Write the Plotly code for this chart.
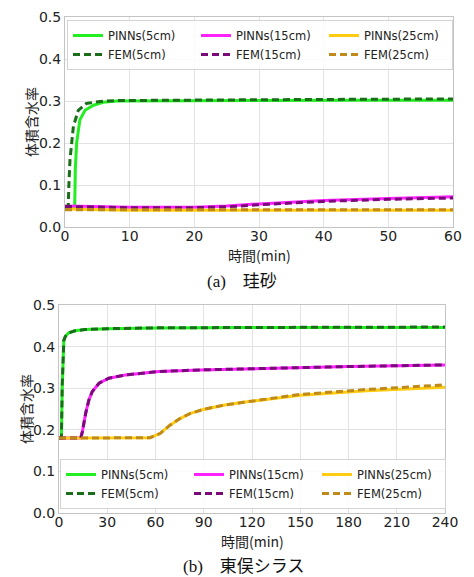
import plotly.graph_objects as go

# The page body has an 8px margin; the figure is sized so that it fills the
# 474x577 window exactly from that offset.
OFF = 8
W, H = 474 - OFF, 577 - OFF

# ---------------- (a) 珪砂 ----------------
t_a_p5 = [0, 1.5, 1.6, 1.8, 2.3, 3.1, 4.4, 5.9, 8, 15, 30, 45, 60]
v_a_p5 = [0.048, 0.048, 0.14, 0.20, 0.255, 0.278, 0.290, 0.297, 0.300, 0.300, 0.301, 0.302, 0.302]
t_a_f5 = [0, 0.5, 0.6, 0.77, 1.3, 2.06, 3.3, 5.4, 7.7, 15, 30, 45, 60]
v_a_f5 = [0.048, 0.048, 0.10, 0.16, 0.24, 0.278, 0.294, 0.299, 0.301, 0.302, 0.303, 0.304, 0.305]
t_a_15 = [0, 10, 20, 25, 30, 40, 50, 60]
v_a_p15 = [0.050, 0.047, 0.047, 0.050, 0.055, 0.063, 0.068, 0.072]
v_a_f15 = [0.049, 0.046, 0.046, 0.048, 0.053, 0.061, 0.066, 0.069]
t_a_25 = [0, 5, 10, 20, 30, 40, 50, 60]
v_a_p25 = [0.043, 0.041, 0.040, 0.040, 0.040, 0.040, 0.040, 0.040]
v_a_f25 = [0.041, 0.041, 0.041, 0.041, 0.041, 0.041, 0.041, 0.041]

# ---------------- (b) 東俣シラス ----------------
t_b_5 = [0, 1.5, 2, 2.5, 3, 4, 6, 10, 16, 30, 60, 120, 240]
v_b_p5 = [0.18, 0.18, 0.30, 0.39, 0.415, 0.425, 0.433, 0.438, 0.441, 0.443, 0.445, 0.446, 0.446]
v_b_f5 = [0.18, 0.18, 0.31, 0.39, 0.415, 0.425, 0.433, 0.438, 0.441, 0.443, 0.445, 0.446, 0.447]
t_b_15 = [0, 13.5, 14.5, 15.5, 16.6, 18.6, 20.7, 24.9, 31, 41.5, 62, 88, 120, 180, 240]
v_b_p15 = [0.18, 0.18, 0.195, 0.22, 0.24, 0.272, 0.292, 0.312, 0.324, 0.332, 0.340, 0.344, 0.347, 0.352, 0.356]
v_b_f15 = [0.18, 0.18, 0.195, 0.22, 0.24, 0.272, 0.292, 0.312, 0.324, 0.332, 0.340, 0.344, 0.347, 0.352, 0.356]
t_b_25 = [0, 44, 56.6, 62.8, 69, 75.2, 81.4, 89.7, 102.2, 114.6, 129, 150, 191.5, 240]
v_b_p25 = [0.18, 0.18, 0.181, 0.191, 0.211, 0.227, 0.239, 0.249, 0.259, 0.266, 0.273, 0.283, 0.294, 0.302]
v_b_f25 = [0.18, 0.18, 0.181, 0.191, 0.211, 0.227, 0.239, 0.249, 0.259, 0.266, 0.274, 0.285, 0.297, 0.308]

names = ["PINNs(5cm)", "PINNs(15cm)", "PINNs(25cm)", "FEM(5cm)", "FEM(15cm)", "FEM(25cm)"]
colors = ["#22ee22", "#ff22ff", "#ffcc11", "#1a6e1a", "#7a0a7a", "#bf8a1a"]

xticks_a = [0, 10, 20, 30, 40, 50, 60]
xticks_b = [0, 30, 60, 90, 120, 150, 180, 210, 240]
yticks = [0.0, 0.1, 0.2, 0.3, 0.4, 0.5]

fig = go.Figure()

series_a = [(t_a_p5, v_a_p5), (t_a_15, v_a_p15), (t_a_25, v_a_p25),
            (t_a_f5, v_a_f5), (t_a_15, v_a_f15), (t_a_25, v_a_f25)]
series_b = [(t_b_5, v_b_p5), (t_b_15, v_b_p15), (t_b_25, v_b_p25),
            (t_b_5, v_b_f5), (t_b_15, v_b_f15), (t_b_25, v_b_f25)]

DASH = "7px,4px"
for i, (t, v) in enumerate(series_a):
    fig.add_trace(go.Scatter(x=t, y=v, mode="lines", name=names[i],
                             line=dict(color=colors[i], width=3, dash="solid" if i < 3 else DASH),
                             xaxis="x", yaxis="y", legend="legend"))
for i, (t, v) in enumerate(series_b):
    fig.add_trace(go.Scatter(x=t, y=v, mode="lines", name=names[i],
                             line=dict(color=colors[i], width=3, dash="solid" if i < 3 else DASH),
                             xaxis="x2", yaxis="y2", legend="legend2"))

tickfont = dict(family="DejaVu Sans", size=14, color="#222222")
axis_common = dict(showgrid=True, gridcolor="#e2e2e2", gridwidth=1, showline=True, mirror=True,
                   linecolor="#c4c4c4", linewidth=1, zeroline=False, ticks="", tickfont=tickfont,
                   automargin=False)


def xp(px):
    return (px - OFF) / W


def yp(py):
    return 1 - (py - OFF) / H


fig.update_layout(
    width=W, height=H, template="none",
    paper_bgcolor="white", plot_bgcolor="white",
    margin=dict(l=0, r=0, t=0, b=0),
    showlegend=True,
    xaxis=dict(domain=[xp(65), xp(453)], range=[0, 60], tickvals=xticks_a, anchor="y",
               ticklabelstandoff=-4, **axis_common),
    yaxis=dict(domain=[yp(227), yp(17)], range=[0, 0.5], tickvals=yticks, tickformat=".1f", anchor="x",
               **axis_common),
    xaxis2=dict(domain=[xp(59), xp(445)], range=[0, 240], tickvals=xticks_b, anchor="y2",
                ticklabelstandoff=-4, **axis_common),
    yaxis2=dict(domain=[yp(513), yp(305)], range=[0, 0.5], tickvals=yticks, tickformat=".1f", anchor="x2",
                **axis_common),
    legend=dict(orientation="h", x=xp(67), xanchor="left", y=yp(20), yanchor="top",
                bgcolor="rgba(255,255,255,0.85)", bordercolor="#d4d4d4", borderwidth=1,
                font=dict(family="DejaVu Sans", size=11.5, color="#222222"),
                entrywidth=83, entrywidthmode="pixels", itemwidth=30, tracegroupgap=0),
    legend2=dict(orientation="h", x=xp(60), xanchor="left", y=yp(509), yanchor="bottom",
                 bgcolor="rgba(255,255,255,0.85)", bordercolor="#d4d4d4", borderwidth=1,
                 font=dict(family="DejaVu Sans", size=11.5, color="#222222"),
                 entrywidth=83, entrywidthmode="pixels", itemwidth=30, tracegroupgap=0),
)

cjk = "Noto Sans CJK JP"
serif = "Liberation Serif, Noto Sans CJK JP"
ann = [
    dict(text="体積含水率", x=xp(31), y=yp(122), textangle=-90, font=dict(family=cjk, size=14, color="#222")),
    dict(text="時間(min)", x=xp(259), y=yp(255), font=dict(family=cjk, size=14, color="#222")),
    dict(text="(a)　珪砂", x=xp(242), y=yp(281), font=dict(family=serif, size=17, color="#111")),
    dict(text="体積含水率", x=xp(26), y=yp(409), textangle=-90, font=dict(family=cjk, size=14, color="#222")),
    dict(text="時間(min)", x=xp(252), y=yp(541), font=dict(family=cjk, size=14, color="#222")),
    dict(text="(b)　東俣シラス", x=xp(243), y=yp(566), font=dict(family=serif, size=17, color="#111")),
]
for a in ann:
    fig.add_annotation(xref="paper", yref="paper", showarrow=False, xanchor="center", yanchor="middle", **a)

fig.write_html("out.html")
